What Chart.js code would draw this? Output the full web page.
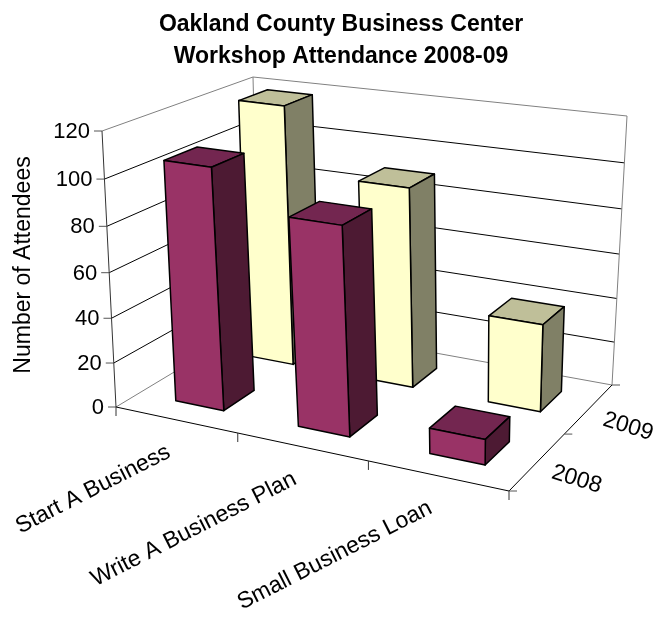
<!DOCTYPE html>
<html>
<head>
<meta charset="utf-8">
<title>Workshop Attendance</title>
<script src="https://cdn.jsdelivr.net/npm/chart.js@4/dist/chart.umd.js"></script>
<style>
    html, body { margin: 0; padding: 0; background: #fff; }
    canvas { display: block; }
</style>
</head>
<body>
<canvas id="chart" width="655" height="618"></canvas>
<script>
var workshops = ['Start A Business', 'Write A Business Plan', 'Small Business Loan'];
var years = ['2008', '2009'];
var attendance2008 = [106, 90, 11];
var attendance2009 = [119, 90, 39];
var yTicks = [0, 20, 40, 60, 80, 100, 120];
var chartTitle = ['Oakland County Business Center', 'Workshop Attendance 2008-09'];
var yTitle = 'Number of Attendees';

// corners of the 3d box on the page: front left, front right, back right, back left
var floorCorners = [[116, 407], [509, 491], [612, 385], [259, 321]];
var topCorners = [[102, 131], [516, 190], [627, 116], [253, 77]];
var heightWarp = 1.055;
var depthBand = [[0.145, 0.355], [0.645, 0.855]];
var barShift = 0.004;

var font = '"Liberation Sans", Arial, sans-serif';

function quadMap(q) {
    var dx1 = q[1][0] - q[2][0], dx2 = q[3][0] - q[2][0], sx = q[0][0] - q[1][0] + q[2][0] - q[3][0];
    var dy1 = q[1][1] - q[2][1], dy2 = q[3][1] - q[2][1], sy = q[0][1] - q[1][1] + q[2][1] - q[3][1];
    var den = dx1 * dy2 - dx2 * dy1;
    var g = (sx * dy2 - dx2 * sy) / den;
    var h = (dx1 * sy - sx * dy1) / den;
    var a = q[1][0] - q[0][0] + g * q[1][0], b = q[3][0] - q[0][0] + h * q[3][0];
    var d = q[1][1] - q[0][1] + g * q[1][1], e = q[3][1] - q[0][1] + h * q[3][1];
    return function (u, v) {
        var n = g * u + h * v + 1;
        return [(a * u + b * v + q[0][0]) / n, (d * u + e * v + q[0][1]) / n];
    };
}

var floorMap = quadMap(floorCorners);
var topMap = quadMap(topCorners);

// u along the categories, v into the depth, w up the value axis (all 0..1)
function project(u, v, w) {
    var p = floorMap(u, v), q = topMap(u, v);
    var t = w / (w + (1 - w) * heightWarp);
    return [p[0] + (q[0] - p[0]) * t, p[1] + (q[1] - p[1]) * t];
}

function line(ctx, a, b, color, width) {
    ctx.strokeStyle = color;
    ctx.lineWidth = width;
    ctx.beginPath();
    ctx.moveTo(a[0], a[1]);
    ctx.lineTo(b[0], b[1]);
    ctx.stroke();
}

function face(ctx, pts, fill) {
    ctx.fillStyle = fill;
    ctx.strokeStyle = '#000';
    ctx.lineWidth = 1.5;
    ctx.lineJoin = 'round';
    ctx.beginPath();
    pts.forEach(function (p, i) {
        if (i) ctx.lineTo(p[0], p[1]); else ctx.moveTo(p[0], p[1]);
    });
    ctx.closePath();
    ctx.fill();
    ctx.stroke();
}

function text(ctx, str, x, y, angle, align, size) {
    ctx.save();
    ctx.translate(x, y);
    ctx.rotate(angle * Math.PI / 180);
    ctx.font = size + 'px ' + font;
    ctx.fillStyle = '#000';
    ctx.textAlign = align;
    ctx.textBaseline = 'middle';
    ctx.fillText(str, 0, 0);
    ctx.restore();
}

function drawWalls(ctx, chart) {
    var ys = chart.scales.y, area = chart.chartArea;
    ys.ticks.forEach(function (tick) {
        var w = (area.bottom - ys.getPixelForValue(tick.value)) / area.height;
        var front = project(0, 0, w), back = project(0, 1, w), right = project(1, 1, w);
        var edge = w === 0 || w === 1;
        line(ctx, front, back, edge ? '#808080' : '#000', 1);
        line(ctx, back, right, edge ? '#808080' : '#000', 1);
        line(ctx, [front[0] - 8, front[1]], front, '#555', 1);
        text(ctx, tick.label, front[0] - 12, front[1] + 1, 0, 'right', 22);
    });
    line(ctx, project(0, 1, 0), project(0, 1, 1), '#808080', 1);
    line(ctx, project(1, 1, 0), project(1, 1, 1), '#808080', 1);
    line(ctx, project(0, 0, 0), project(0, 0, 1), '#333', 1);
    line(ctx, project(0, 0, 0), project(1, 0, 0), '#000', 1);
    line(ctx, project(1, 0, 0), project(1, 1, 0), '#000', 1);
}

function drawAxisMarks(ctx, chart) {
    var i, p, n = chart.data.labels.length, count = chart.data.datasets.length;
    for (i = 0; i <= n; i++) {
        p = project(i / n, 0, 0);
        line(ctx, p, [p[0], p[1] + 9], '#333', 1);
    }
    for (i = 0; i <= count; i++) {
        p = project(1, i / count, 0);
        line(ctx, p, [p[0] + 8, p[1]], '#555', 1);
    }
    chart.data.labels.forEach(function (label, i) {
        p = project((i + 0.5) / n, 0, 0);
        text(ctx, label, p[0] - 7, p[1] + 31, -27, 'right', 23);
    });
    chart.data.datasets.forEach(function (set, i) {
        p = project(1, (i + 0.5) / count, 0);
        text(ctx, set.label, p[0] + 39, p[1] + 18, 17, 'center', 23);
    });
    text(ctx, yTitle, 24, 265, -90, 'center', 23);
}

var box3d = {
    id: 'box3d',
    beforeDatasetsDraw: function (chart) {
        var ctx = chart.ctx, area = chart.chartArea;
        ctx.save();
        drawWalls(ctx, chart);
        // back row first so the front row covers it
        for (var d = chart.data.datasets.length - 1; d >= 0; d--) {
            var set = chart.data.datasets[d], v = depthBand[d];
            chart.getDatasetMeta(d).data.forEach(function (el) {
                var u0 = (el.x - el.width / 2 - area.left) / area.width + barShift;
                var u1 = (el.x + el.width / 2 - area.left) / area.width + barShift;
                var h = (area.bottom - el.y) / area.height;
                face(ctx, [project(u0, v[0], h), project(u1, v[0], h), project(u1, v[1], h), project(u0, v[1], h)], set.topColor);
                face(ctx, [project(u1, v[0], 0), project(u1, v[1], 0), project(u1, v[1], h), project(u1, v[0], h)], set.sideColor);
                face(ctx, [project(u0, v[0], 0), project(u1, v[0], 0), project(u1, v[0], h), project(u0, v[0], h)], set.backgroundColor);
            });
        }
        drawAxisMarks(ctx, chart);
        ctx.restore();
        return false;
    }
};

new Chart(document.getElementById('chart'), {
    type: 'bar',
    data: {
        labels: workshops,
        datasets: [
            { label: years[0], data: attendance2008, backgroundColor: '#993366', topColor: '#732650', sideColor: '#4d1a33' },
            { label: years[1], data: attendance2009, backgroundColor: '#ffffcc', topColor: '#bfbf99', sideColor: '#808066' }
        ]
    },
    options: {
        responsive: false,
        devicePixelRatio: 1,
        animation: false,
        layout: { padding: { left: 19, right: 0, top: 0, bottom: 20 } },
        datasets: { bar: { grouped: false, categoryPercentage: 0.4, barPercentage: 1 } },
        scales: {
            x: { ticks: { display: false }, grid: { display: false }, border: { display: false } },
            y: {
                min: 0,
                max: 120,
                afterBuildTicks: function (scale) {
                    scale.ticks = yTicks.map(function (v) { return { value: v }; });
                },
                ticks: { display: false, callback: function (v) { return String(v); } },
                grid: { display: false },
                border: { display: false }
            }
        },
        plugins: {
            legend: { display: false },
            tooltip: { enabled: false },
            title: {
                display: true,
                fullSize: false,
                text: chartTitle,
                color: '#000',
                font: { family: font, size: 23, weight: 'bold', lineHeight: 1.37 },
                padding: { top: 9, bottom: 10 }
            }
        }
    },
    plugins: [box3d]
});
</script>
</body>
</html>
